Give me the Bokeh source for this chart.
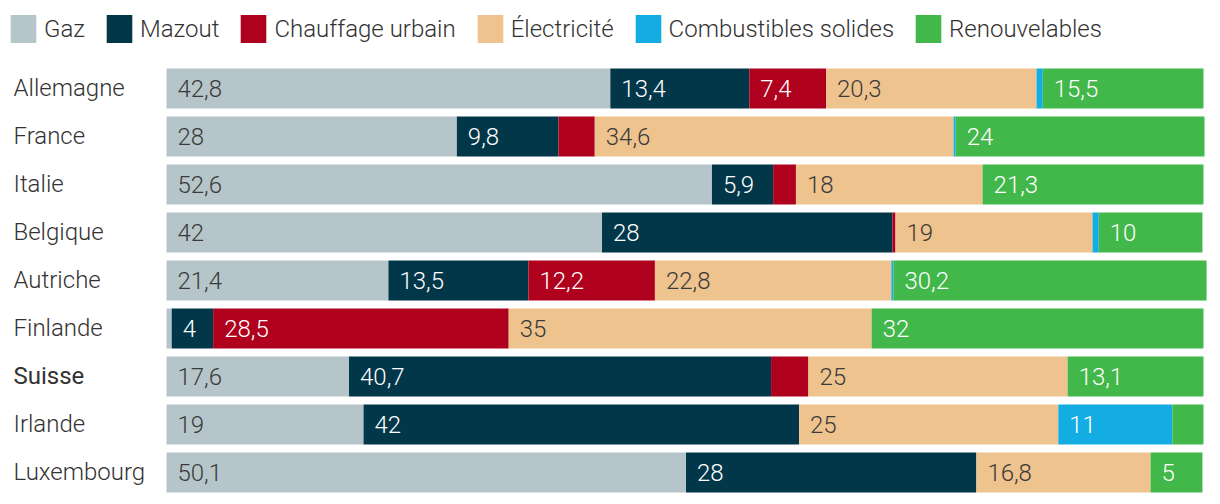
from bokeh.plotting import figure
from bokeh.models import ColumnDataSource, Range1d, Legend, LegendItem
from bokeh.core.properties import value
from bokeh.embed import file_html
from bokeh.resources import INLINE

countries = ["Allemagne", "France", "Italie", "Belgique", "Autriche",
             "Finlande", "Suisse", "Irlande", "Luxembourg"]
categories = ["Gaz", "Mazout", "Chauffage urbain", "Électricité",
              "Combustibles solides", "Renouvelables"]
gaz = [42.8, 28, 52.6, 42, 21.4, 0.5, 17.6, 19, 50.1]
mazout = [13.4, 9.8, 5.9, 28, 13.5, 4, 40.7, 42, 28]
chauffage = [7.4, 3.5, 2.2, 0.3, 12.2, 28.5, 3.6, 0, 0]
electricite = [20.3, 34.6, 18, 19, 22.8, 35, 25, 25, 16.8]
solides = [0.6, 0.2, 0, 0.6, 0.2, 0, 0, 11, 0]
renouvelables = [15.5, 24, 21.3, 10, 30.2, 32, 13.1, 3, 5]
highlight = "Suisse"

series = [gaz, mazout, chauffage, electricite, solides, renouvelables]
colors = ["#b6c5c9", "#02374a", "#af001e", "#eec38e", "#14ade3", "#42b74a"]
label_colors = ["#3a3a3a", "#ffffff", "#ffffff", "#3a3a3a", "#ffffff", "#ffffff"]
FONT = "Roboto Light"
FS = "24px"

p = figure(width=1212, height=496, output_backend="svg", toolbar_location=None,
           x_range=Range1d(-16.008, 100.87), y_range=Range1d(8.5, -1.8333),
           min_border=0, outline_line_color=None)
p.xaxis.visible = False
p.yaxis.visible = False
p.xgrid.visible = False
p.ygrid.visible = False

rows = list(range(len(countries)))
cum = [0.0] * len(countries)
items = []
lab_x, lab_y, lab_t, lab_c = [], [], [], []
for k, (cat, vals) in enumerate(zip(categories, series)):
    left = list(cum)
    right = [l + v for l, v in zip(left, vals)]
    src = ColumnDataSource(dict(y=rows, left=left, right=right))
    r = p.hbar(y="y", left="left", right="right", height=40 / 48, source=src,
               fill_color=colors[k], line_color=None)
    items.append(LegendItem(label=cat, renderers=[r]))
    for i, v in enumerate(vals):
        if v >= 4:
            lab_x.append(left[i])
            lab_y.append(i)
            lab_t.append(("%g" % v).replace(".", ","))
            lab_c.append(label_colors[k])
    cum = right

lsrc = ColumnDataSource(dict(x=lab_x, y=lab_y, t=lab_t, c=lab_c))
p.text(x="x", y="y", text="t", source=lsrc, x_offset=11, text_color="c",
       text_baseline="middle", text_align="left",
       text_font=value(FONT), text_font_size=FS)

csrc = ColumnDataSource(dict(
    x=[0] * len(countries), y=rows, t=countries,
    f=["Roboto" if c == highlight else FONT for c in countries]))
p.text(x="x", y="y", text="t", source=csrc, x_offset=-153, text_color="#333333",
       text_baseline="middle", text_align="left", text_font="f",
       text_font_style="normal", text_font_size=FS)

legend = Legend(items=items, orientation="horizontal", location=(7, 450),
                glyph_width=32, glyph_height=35, label_standoff=5, spacing=18,
                padding=0, margin=0, border_line_color=None,
                background_fill_alpha=0, label_text_font=FONT,
                label_text_font_size=FS, label_text_color="#333333")
p.add_layout(legend, "center")

open("out.html", "w").write(file_html(p, INLINE))
